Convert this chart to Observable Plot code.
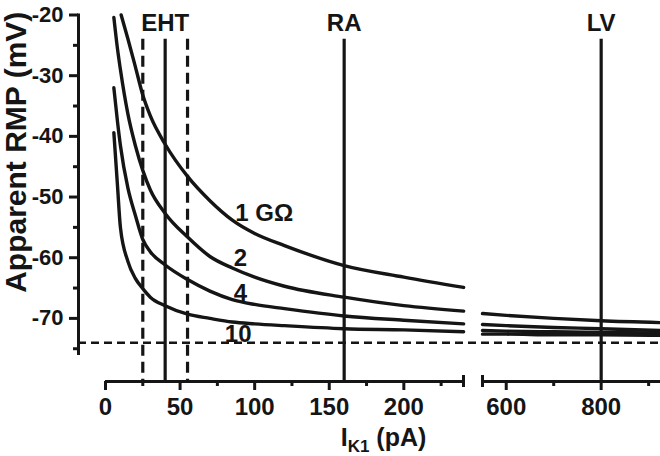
<!DOCTYPE html>
<html><head><meta charset="utf-8">
<script src="https://cdn.jsdelivr.net/npm/d3@7"></script>
<script src="https://cdn.jsdelivr.net/npm/@observablehq/plot@0.6"></script>
<style>
body{margin:0;background:#fff;}
</style></head><body><div id="chart"></div>
<script>
// ---- data ----
const sealLabels = ["1 GΩ", "2", "4", "10"];
const ik1Left = [5.6, 8, 10, 15, 20, 25, 30, 40, 55, 70, 85, 100, 120, 160, 200, 242];
const ik1Left1G = [10.5, 15, 20, 25, 30, 40, 55, 70, 85, 100, 120, 160, 200, 242];
const ik1Right = [550, 600, 700, 800, 925];
const rmp1Left = [-20, -23.9, -28.5, -33.2, -36.6, -41.3, -46.6, -50.6, -53.8, -56.0, -58.0, -61.3, -63.2, -64.9];
const rmp2Left = [-20.4, -25.5, -29.0, -36.3, -41.5, -45.6, -48.8, -52.7, -56.6, -59.8, -61.7, -63.2, -64.7, -66.5, -67.9, -68.8];
const rmp4Left = [-32, -37.5, -41.5, -48.5, -53.0, -57.0, -59.0, -61.2, -63.6, -65.5, -66.9, -67.7, -68.4, -69.6, -70.3, -70.9];
const rmp10Left = [-39.4, -48.0, -55.0, -60.6, -63.4, -65.1, -66.5, -67.9, -69.3, -70.0, -70.6, -70.9, -71.2, -71.7, -71.9, -72.2];
const rmp1Right = [-69.2, -69.5, -70.0, -70.4, -70.7];
const rmp2Right = [-71.0, -71.2, -71.5, -71.7, -72.0];
const rmp4Right = [-72.0, -72.1, -72.2, -72.3, -72.4];
const rmp10Right = [-72.6, -72.6, -72.7, -72.7, -72.8];

const ek = -74;                       // dashed horizontal reference
const ehtBand = [25, 55];              // dashed verticals
const refX = [40, 160, 800];          // solid verticals
const refNames = ["EHT", "RA", "LV"];
const refTop = -24;

const labelX = [87, 86, 86, 80];
const labelY = [-52.7, -60.1, -65.9, -72.6];

const xMajorTicks = [0, 50, 100, 150, 200, 600, 800];
const xMinorTicks = [25, 75, 125, 175, 225, 700, 900];
const yMajorTicks = [-20, -30, -40, -50, -60, -70];
const yMinorTicks = [-25, -35, -45, -55, -65, -75];
const xSegments = [[0, 240], [550, 925]];
const xBreakCaps = [240, 550];
const yFloor = -80.4;

const yLabel = "Apparent RMP (mV)";
const xLabel = "IK1 (pA)";

// ---- build table ----
const rows = [];
function add(key, xs, ys, seg) { xs.forEach((x, i) => rows.push({key: key + seg, ik1: x, rmp: ys[i]})); }
add("1", ik1Left1G, rmp1Left, "L");
add("2", ik1Left, rmp2Left, "L");
add("4", ik1Left, rmp4Left, "L");
add("10", ik1Left, rmp10Left, "L");
add("1", ik1Right, rmp1Right, "R");
add("2", ik1Right, rmp2Right, "R");
add("4", ik1Right, rmp4Right, "R");
add("10", ik1Right, rmp10Right, "R");

const ink = "#151515";
const chart = Plot.plot({
  width: 660, height: 456,
  marginLeft: 78, marginRight: 0, marginTop: 14.5, marginBottom: 75,
  style: {fontFamily: '"Liberation Sans", Arial, sans-serif', fontWeight: "bold", color: ink, background: "white", overflow: "visible"},
  x: {type: "linear", domain: [0, 240, 550, 925], range: [105, 463, 482, 660]},
  y: {domain: [yFloor, -20]},
  marks: [
    Plot.frame({anchor: "left", insetBottom: 28, stroke: ink, strokeWidth: 3}),
    Plot.ruleY(xSegments, {x1: d => d[0], x2: d => d[1], y: () => yFloor, stroke: ink, strokeWidth: 3}),
    Plot.ruleX(xBreakCaps, {x: d => d, y1: yFloor, y2: yFloor, insetTop: -6, insetBottom: -6, stroke: ink, strokeWidth: 3}),
    Plot.axisX(xMajorTicks, {tickSize: 9, tickPadding: 7, strokeWidth: 3, fontSize: 24, label: null, tickFormat: d => String(d)}),
    Plot.axisX(xMinorTicks, {tickSize: 5, strokeWidth: 3, label: null, tickFormat: () => ""}),
    Plot.axisY(yMajorTicks, {tickSize: 9, tickPadding: 6, strokeWidth: 3, fontSize: 22, label: null, tickFormat: d => String(d)}),
    Plot.axisY(yMinorTicks, {tickSize: 5, strokeWidth: 3, label: null, tickFormat: () => ""}),
    Plot.ruleY([ek], {stroke: ink, strokeWidth: 2.5, strokeDasharray: "8,5"}),
    Plot.ruleX(ehtBand, {x: d => d, y1: refTop, y2: yFloor, stroke: ink, strokeWidth: 3.2, strokeDasharray: "11,6"}),
    Plot.ruleX(refX, {x: d => d, y1: refTop, y2: yFloor, stroke: ink, strokeWidth: 3.2}),
    Plot.line(rows, {x: "ik1", y: "rmp", z: "key", stroke: ink, strokeWidth: 3.4, curve: "monotone-x"}),
    Plot.text(refNames, {x: (d, i) => refX[i], frameAnchor: "top", lineAnchor: "middle", dy: 8, fontSize: 24, fill: ink}),
    Plot.text(sealLabels, {x: (d, i) => labelX[i], y: (d, i) => labelY[i], textAnchor: "start", fontSize: 24, fill: ink}),
    Plot.text([yLabel], {frameAnchor: "left", textAnchor: "middle", lineAnchor: "middle", dx: -62, dy: -46, rotate: -90, fontSize: 30, fill: ink}),
    Plot.text([xLabel], {frameAnchor: "bottom", textAnchor: "middle", lineAnchor: "middle", dx: 14, dy: 56, fontSize: 25, fill: ink})
  ]
});
chart.querySelectorAll("text").forEach(t => {
  if (t.textContent === xLabel) {
    t.textContent = "";
    const ns = "http://www.w3.org/2000/svg";
    const a = document.createElementNS(ns, "tspan"); a.textContent = "I";
    const b = document.createElementNS(ns, "tspan"); b.textContent = "K1"; b.setAttribute("dy", "6"); b.setAttribute("font-size", "17");
    const c = document.createElementNS(ns, "tspan"); c.textContent = " (pA)"; c.setAttribute("dy", "-6");
    t.append(a, b, c);
  }
});
document.getElementById("chart").append(chart);
</script></body></html>
